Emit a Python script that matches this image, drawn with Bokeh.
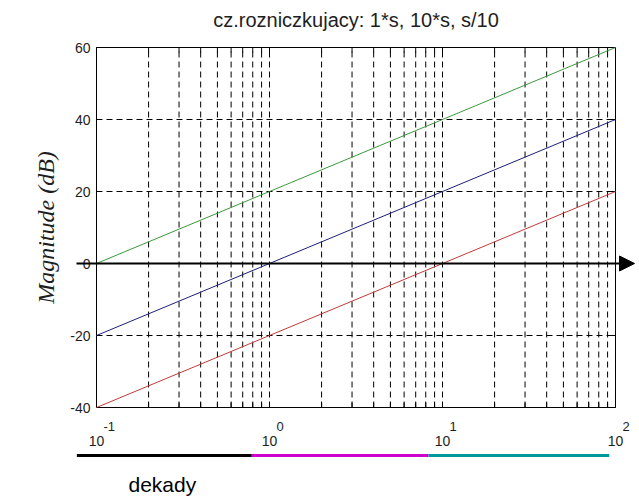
import math
from bokeh.plotting import figure
from bokeh.models import Range1d, Arrow, NormalHead
from bokeh.core.properties import value
from bokeh.embed import file_html
from bokeh.resources import INLINE

# ---------------- data ----------------
freq = [0.1, 1, 10, 100]
mag_10s = [0, 20, 40, 60]      # 10*s
mag_s = [-20, 0, 20, 40]       # 1*s
mag_s10 = [-40, -20, 0, 20]    # s/10

x_major = [0.1, 1, 10, 100]
x_exponents = ["-1", "0", "1", "2"]
x_minor = [m * d for d in [0.1, 1, 10] for m in range(2, 10)]
y_ticks = [-40, -20, 0, 20, 40, 60]
y_labels = ["-40", "-20", "0", "20", "40", "60"]

decade_bounds = [0.077, 0.79, 8.3, 92]
decade_colors = ["#000000", "#cc00cc", "#009999"]

title = "cz.rozniczkujacy: 1*s, 10*s, s/10"
ylabel = "Magnitude (dB)"
note = "dekady"

XMIN, XMAX, YMIN, YMAX = 0.1, 100, -40, 60

# ---------------- layout (pixels) ----------------
W, H = 639, 497
BOX_L, BOX_R, BOX_T, BOX_B = 96, 615, 47, 407
DEC_PX = (BOX_R - BOX_L) / math.log10(XMAX / XMIN)
PPU_Y = (BOX_B - BOX_T) / (YMAX - YMIN)


def px2x(px):
    return 10 ** (math.log10(XMIN) + (px - BOX_L) / DEC_PX)


def py2y(py):
    return YMIN + (BOX_B - py) / PPU_Y


x_range = Range1d(px2x(0), px2x(W))
y_range = Range1d(py2y(H), py2y(0))

p = figure(width=W, height=H, x_axis_type="log", x_range=x_range, y_range=y_range,
           x_axis_location=None, y_axis_location=None, toolbar_location=None,
           output_backend="svg", min_border_left=0, min_border_right=0,
           min_border_top=0, min_border_bottom=0)
p.outline_line_color = None
p.background_fill_color = "white"
p.border_fill_color = "white"
p.xgrid.visible = False
p.ygrid.visible = False

FONT = value("Liberation Sans")
TXT = "#1e1e1e"
DASH = "6 4"

# ---- grid (dashed) ----
vgrid = x_major[1:-1] + x_minor
p.segment(x0=vgrid, y0=[YMIN] * len(vgrid), x1=vgrid, y1=[YMAX] * len(vgrid),
          line_color="black", line_width=1, line_dash=DASH)
hgrid = y_ticks[1:-1]
p.segment(x0=[XMIN] * len(hgrid), y0=hgrid, x1=[XMAX] * len(hgrid), y1=hgrid,
          line_color="black", line_width=1, line_dash=DASH)

# ---- inward ticks ----
TICK = 5
kx = 10 ** (TICK / DEC_PX)
ky = TICK / PPU_Y
xt = x_major + x_minor
p.segment(x0=xt, y0=[YMIN] * len(xt), x1=xt, y1=[YMIN + ky] * len(xt),
          line_color="black", line_width=1)
p.segment(x0=xt, y0=[YMAX] * len(xt), x1=xt, y1=[YMAX - ky] * len(xt),
          line_color="black", line_width=1)
p.segment(x0=[XMIN] * len(y_ticks), y0=y_ticks, x1=[XMIN * kx] * len(y_ticks), y1=y_ticks,
          line_color="black", line_width=1)
p.segment(x0=[XMAX] * len(y_ticks), y0=y_ticks, x1=[XMAX / kx] * len(y_ticks), y1=y_ticks,
          line_color="black", line_width=1)

# ---- box ----
p.quad(left=[XMIN], right=[XMAX], bottom=[YMIN], top=[YMAX],
       fill_color=None, line_color="black", line_width=1)

# ---- series ----
p.line(freq, mag_10s, line_color="#3a9a3a", line_width=1)
p.line(freq, mag_s, line_color="#1e1e78", line_width=1)
p.line(freq, mag_s10, line_color="#c03a3a", line_width=1)

# ---- arrow along 0 dB ----
p.add_layout(Arrow(end=NormalHead(size=15, fill_color="black", line_color="black"),
                   x_start=px2x(76), y_start=0, x_end=px2x(634), y_end=0,
                   line_color="black", line_width=2))

# ---- y tick labels ----
p.text(x=[XMIN] * len(y_ticks), y=y_ticks, text=y_labels, x_offset=-6,
       text_align="right", text_baseline="middle", text_font=FONT,
       text_font_size=value("14px"), text_color=TXT)

# ---- x tick labels 10^k ----
p.text(x=x_major, y=[py2y(440)] * len(x_major),
       text=["10"] * len(x_major), text_align="center", text_baseline="middle",
       text_font=FONT, text_font_size=value("14px"), text_color=TXT)
p.text(x=[v * 10 ** (7 / DEC_PX) for v in x_major], y=[py2y(426)] * len(x_major),
       text=x_exponents, text_align="left", text_baseline="middle",
       text_font=FONT, text_font_size=value("13px"), text_color=TXT)

# ---- y axis label ----
p.text(x=[px2x(45)], y=[py2y((BOX_T + BOX_B) / 2)], text=[ylabel], angle=math.pi / 2,
       text_align="center", text_baseline="middle",
       text_font=value("Liberation Serif"), text_font_style="italic",
       text_font_size=value("24px"), text_color=TXT)

# ---- title ----
p.text(x=[math.sqrt(XMIN * XMAX)], y=[py2y(19)], text=[title],
       text_align="center", text_baseline="middle", text_font=FONT,
       text_font_size=value("20px"), text_color=TXT)

# ---- decade bars + note ----
p.segment(x0=decade_bounds[:-1], x1=decade_bounds[1:],
          y0=[py2y(455)] * 3, y1=[py2y(455)] * 3,
          line_color=decade_colors, line_width=3)
p.text(x=[px2x(128)], y=[py2y(484)], text=[note], text_align="left",
       text_baseline="middle", text_font=FONT, text_font_size=value("21px"),
       text_color="black")

open("out.html", "w").write(file_html(p, INLINE))
